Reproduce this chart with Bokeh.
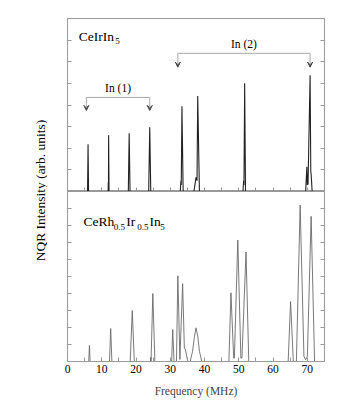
import math
from bokeh.plotting import figure
from bokeh.layouts import row, column
from bokeh.models import LinearAxis, FixedTicker, Range1d, Arrow, VeeHead
from bokeh.core.properties import value
from bokeh.embed import file_html
from bokeh.resources import INLINE

# ---------------- data ----------------
# CeIrIn5 spectrum (frequency in MHz, intensity in arb. units)
top_freq = [0, 5.85, 6.0, 6.15, 11.85, 11.9, 11.95, 12.0, 12.12, 17.75, 18.0, 18.25,
            23.7, 24.0, 24.3, 32.9, 33.1, 33.2, 33.4, 33.75, 36.9, 37.5, 37.8, 38.0,
            38.5, 51.2, 51.4, 51.5, 51.7, 51.95, 69.5, 69.85, 70.0, 70.2, 70.8, 71.0,
            71.1, 71.4, 75]
top_int = [0, 0, 2.18, 0, 0, 0.4, 0.1, 2.6, 0, 0, 2.69, 0,
           0, 2.97, 0, 0, 0.5, 0.3, 3.94, 0, 0, 0.65, 0.5, 4.42,
           0, 0, 0.5, 0.3, 5.0, 0, 0, 1.14, 0.3, 0.35, 5.37, 0.9,
           0.8, 0, 0]

# CeRh0.5Ir0.5In5 spectrum
bot_freq = [0, 6.2, 6.4, 6.6, 12.25, 12.6, 12.95, 18.3, 18.9, 19.5, 24.2, 24.3, 24.38,
            24.9, 25.5, 30.4, 30.7, 31.1, 31.8, 32.2, 32.8, 33.6, 34.1, 34.4, 35.1,
            35.8, 36.5, 37.0, 37.5, 38.0, 38.5, 39.2, 47.1, 47.7, 48.5, 48.7, 49.7,
            50.6, 50.9, 52.1, 52.9, 64.4, 65.1, 65.9, 66.8, 67.9, 69.0, 69.5, 70.0,
            71.1, 72.1, 75]
bot_int = [0, 0, 0.94, 0, 0, 1.94, 0, 0, 3.0, 0, 0, 0.25, 0,
           4.0, 0, 0, 1.88, 0, 0, 5.04, 0.12, 4.58, 0.8, 0.7, 0,
           0, 0.6, 1.4, 1.98, 1.5, 0.6, 0, 0, 4.04, 0.2, 0.2, 7.14,
           0.2, 0.2, 6.44, 0, 0, 3.52, 0, 0, 9.2, 0.3, 0.1, 0.3,
           8.54, 0, 0]

x_ticks = [0, 10, 20, 30, 40, 50, 60, 70]
x_minor = [5, 15, 25, 35, 45, 55, 65]

# site assignments: arrow x positions, bracket height, arrow tip, label
site_names = ["In (1)", "In (2)"]
site_left = [5.5, 32.2]
site_right = [24.0, 70.8]
site_line_y = [4.35, 6.39]
site_tip_y = [3.75, 5.75]

FONT = "Liberation Serif"
FRAME = "#9a9a9a"

XR = (0, 75)
LEFT_B = 20
RIGHT_B = 12
FW = 257
TOP_B = 18


def hide_labels(ax, ticks):
    ax.major_label_overrides = {t: "" for t in ticks}
    ax.major_label_text_color = None
    ax.major_label_text_alpha = 0
    ax.major_label_standoff = 0


def style_axes(p, yticks, with_labels):
    p.outline_line_color = FRAME
    p.outline_line_width = 1
    for ax in p.yaxis:
        ax.ticker = FixedTicker(ticks=yticks)
    p.add_layout(LinearAxis(ticker=FixedTicker(ticks=yticks)), "right")
    for ax in p.yaxis:
        hide_labels(ax, yticks)
        ax.major_tick_in = 4
        ax.major_tick_out = 0
        ax.minor_tick_in = 0
        ax.minor_tick_out = 0
        ax.axis_line_color = FRAME
        ax.major_tick_line_color = FRAME
    for ax in p.xaxis:
        ax.ticker = FixedTicker(ticks=x_ticks, minor_ticks=x_minor)
        ax.major_tick_in = 4
        ax.major_tick_out = 0
        ax.minor_tick_in = 4
        ax.minor_tick_out = 0
        ax.axis_line_color = FRAME
        ax.major_tick_line_color = FRAME
        ax.minor_tick_line_color = FRAME
        if with_labels:
            ax.major_label_text_font = FONT
            ax.major_label_text_font_size = "11.5px"
            ax.major_label_text_color = "black"
            ax.major_label_standoff = 3
            ax.axis_label = "Frequency (MHz)"
            ax.axis_label_text_font = FONT
            ax.axis_label_text_font_size = "11.5px"
            ax.axis_label_text_font_style = "normal"
            ax.axis_label_standoff = 9
        else:
            hide_labels(ax, x_ticks)
    p.grid.visible = False


# ---------------- top panel ----------------
top = figure(frame_width=FW, frame_height=173, x_range=Range1d(*XR),
             y_range=Range1d(0, 8), output_backend="svg", toolbar_location=None,
             min_border_left=LEFT_B, min_border_right=RIGHT_B, min_border_top=TOP_B,
             min_border_bottom=0, background_fill_color="white",
             border_fill_color="white")
style_axes(top, list(range(0, 9)), False)
top.line(top_freq, top_int, line_color="#222222", line_width=1.1)

for i in range(len(site_names)):
    xl, xr, yl, yt = site_left[i], site_right[i], site_line_y[i], site_tip_y[i]
    top.line([xl, xr], [yl, yl], line_color="#a8a8a8", line_width=1)
    for xx in (xl, xr):
        top.add_layout(Arrow(x_start=xx, y_start=yl, x_end=xx, y_end=yt,
                             line_color="#a8a8a8", line_width=1,
                             end=VeeHead(size=5, line_color="#444444",
                                         fill_color="#444444", line_width=1)))
    top.text(x=[(xl + xr) / 2], y=[yl], text=[site_names[i]], text_font=value(FONT),
             text_font_size="11.5px", text_align="center", text_baseline="bottom",
             y_offset=-3, text_color="black")

# sample label CeIrIn5
top.text(x=[3.30], y=[7.18], text=["CeIrIn"], text_font=value(FONT),
         text_font_size="13.5px", text_baseline="alphabetic", text_align="left",
         text_color="black")
top.text(x=[3.30], y=[7.18], text=["5"], text_font=value(FONT),
         text_font_size="9px", text_baseline="alphabetic", text_align="left",
         x_offset=36.4, y_offset=5, text_color="black")

# ---------------- bottom panel ----------------
bot = figure(frame_width=FW, frame_height=170, x_range=Range1d(*XR),
             y_range=Range1d(0, 10), output_backend="svg", toolbar_location=None,
             min_border_left=LEFT_B, min_border_right=RIGHT_B, min_border_top=0,
             min_border_bottom=10, background_fill_color="white",
             border_fill_color="white")
style_axes(bot, list(range(0, 11)), True)
bot.line(bot_freq, bot_int, line_color="#6a6a6a", line_width=0.9)

# sample label CeRh0.5Ir0.5In5
parts = [("CeRh", 0, "13.5px", 0), ("0.5", 30.3, "9px", 5), ("Ir", 42.7, "13.5px", 0),
         ("0.5", 53.7, "9px", 5), ("In", 66.0, "13.5px", 0), ("5", 76.7, "9px", 5)]
for t, dx, fs, dy in parts:
    bot.text(x=[4.67], y=[8.22], text=[t], text_font=value(FONT), text_font_size=fs,
             text_baseline="alphabetic", text_align="left", x_offset=dx, y_offset=dy,
             text_color="black")

# ---------------- y-axis label ----------------
LAB_W = 47
TOTAL_H = TOP_B + 173 + 170 + 45
lab = figure(width=LAB_W, height=TOTAL_H, x_range=Range1d(0, LAB_W),
             y_range=Range1d(0, TOTAL_H), output_backend="svg", toolbar_location=None,
             min_border=0, outline_line_color=None)
lab.axis.visible = False
lab.grid.visible = False
lab.text(x=[40], y=[TOTAL_H - 190], text=["NQR Intensity (arb. units)"],
         text_font=value(FONT), text_font_size="13.5px", angle=math.pi / 2,
         text_align="center", text_baseline="middle", text_color="black")

layout = row(lab, column(top, bot, spacing=0), spacing=0)

open("out.html", "w").write(file_html(layout, INLINE))
